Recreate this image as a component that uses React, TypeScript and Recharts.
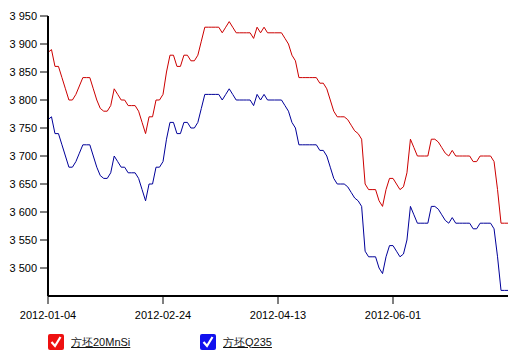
import React from "react";
import { LineChart, Line, XAxis, YAxis } from "recharts";

// daily prices, 133 trading days from 2012-01-04
const billet20MnSi = [
  3885, 3890, 3860, 3860, 3840, 3820, 3800, 3800, 3810, 3825,
  3840, 3840, 3840, 3820, 3800, 3785, 3780, 3780, 3790, 3820,
  3810, 3800, 3800, 3790, 3790, 3790, 3780, 3760, 3740, 3770,
  3770, 3800, 3800, 3810, 3850, 3880, 3880, 3860, 3860, 3880,
  3880, 3870, 3870, 3880, 3905, 3930, 3930, 3930, 3930, 3930,
  3920, 3930, 3940, 3930, 3920, 3920, 3920, 3920, 3920, 3910,
  3930, 3920, 3930, 3920, 3920, 3920, 3920, 3920, 3910, 3900,
  3880, 3870, 3840, 3840, 3840, 3840, 3840, 3840, 3830, 3830,
  3820, 3800, 3780, 3770, 3770, 3770, 3765, 3755, 3745, 3740,
  3730, 3650, 3640, 3640, 3640, 3620, 3610, 3640, 3660, 3660,
  3650, 3640, 3645, 3670, 3730, 3715, 3700, 3700, 3700, 3700,
  3730, 3730, 3725, 3715, 3705, 3700, 3710, 3700, 3700, 3700,
  3700, 3700, 3690, 3690, 3700, 3700, 3700, 3700, 3690, 3640,
  3580, 3580, 3580,
];

const billetQ235 = [
  3765, 3770, 3740, 3740, 3720, 3700, 3680, 3680, 3690, 3705,
  3720, 3720, 3720, 3700, 3680, 3665, 3660, 3660, 3670, 3700,
  3690, 3680, 3680, 3670, 3670, 3670, 3660, 3640, 3620, 3650,
  3650, 3680, 3680, 3690, 3730, 3760, 3760, 3740, 3740, 3760,
  3760, 3750, 3750, 3760, 3785, 3810, 3810, 3810, 3810, 3810,
  3800, 3810, 3820, 3810, 3800, 3800, 3800, 3800, 3800, 3790,
  3810, 3800, 3810, 3800, 3800, 3800, 3800, 3800, 3790, 3780,
  3760, 3750, 3720, 3720, 3720, 3720, 3720, 3720, 3710, 3710,
  3700, 3680, 3660, 3650, 3650, 3650, 3645, 3635, 3625, 3620,
  3610, 3530, 3520, 3520, 3520, 3500, 3490, 3520, 3540, 3540,
  3530, 3520, 3525, 3550, 3610, 3595, 3580, 3580, 3580, 3580,
  3610, 3610, 3605, 3595, 3585, 3580, 3590, 3580, 3580, 3580,
  3580, 3580, 3570, 3570, 3580, 3580, 3580, 3580, 3570, 3520,
  3460, 3460, 3460,
];

const tickIndex = [0, 33, 66, 99];
const tickDates = ["2012-01-04", "2012-02-24", "2012-04-13", "2012-06-01"];
const priceTicks = [3500, 3550, 3600, 3650, 3700, 3750, 3800, 3850, 3900, 3950];

const data = billet20MnSi.map((v, i) => ({ i, a: v, b: billetQ235[i] }));

const fmtPrice = (v: number) => {
  const s = String(v);
  return s.slice(0, s.length - 3) + " " + s.slice(-3);
};

const fmtDate = (v: number) => {
  const k = tickIndex.indexOf(v);
  return k >= 0 ? tickDates[k] : "";
};

const tickStyle = { fontFamily: "'Liberation Sans', Arial, sans-serif", fontSize: 11, fill: "#000" };

const Check = ({ color }: { color: string }) => (
  <svg width={16} height={16} style={{ display: "block" }}>
    <rect x={0} y={0} width={16} height={16} rx={2} fill={color} />
    <path d="M3.5 8 L7 12 L12.5 3" stroke="#fff" strokeWidth={2.2} fill="none" />
  </svg>
);

const LegendItem = ({ color, label, left }: { color: string; label: string; left: number }) => (
  <div style={{ position: "absolute", left, top: 334, display: "flex", alignItems: "center" }}>
    <Check color={color} />
    <span
      style={{
        marginLeft: 7,
        fontFamily: "'Liberation Sans', Arial, sans-serif",
        fontSize: 11,
        color: "#111",
        textDecoration: "underline",
      }}
    >
      {label}
    </span>
  </div>
);

const App = () => (
  <div style={{ position: "absolute", left: 0, top: 0, width: 525, height: 359, background: "#fff" }}>
    <LineChart width={525} height={359} data={data} margin={{ top: 16, right: 17, bottom: 30, left: 0 }}>
      <XAxis
        dataKey="i"
        type="number"
        domain={[0, 132]}
        ticks={tickIndex}
        tickFormatter={fmtDate}
        tick={tickStyle}
        tickSize={8}
        tickMargin={7}
        height={33}
        stroke="#000"
        strokeWidth={2}
        tickLine={{ stroke: "#000", strokeWidth: 1 }}
      />
      <YAxis
        type="number"
        domain={[3450, 3950]}
        ticks={priceTicks}
        tickFormatter={fmtPrice}
        tick={tickStyle}
        tickSize={8}
        tickMargin={3}
        width={48}
        interval={0}
        allowDataOverflow
        stroke="#000"
        strokeWidth={2}
        tickLine={{ stroke: "#000", strokeWidth: 1 }}
      />
      <Line type="linear" dataKey="a" stroke="#cc0000" strokeWidth={1} dot={false} isAnimationActive={false} />
      <Line type="linear" dataKey="b" stroke="#000099" strokeWidth={1} dot={false} isAnimationActive={false} />
    </LineChart>
    <LegendItem color="#ee1111" label="方坯20MnSi" left={48} />
    <LegendItem color="#1111ee" label="方坯Q235" left={200} />
  </div>
);

export default App;
